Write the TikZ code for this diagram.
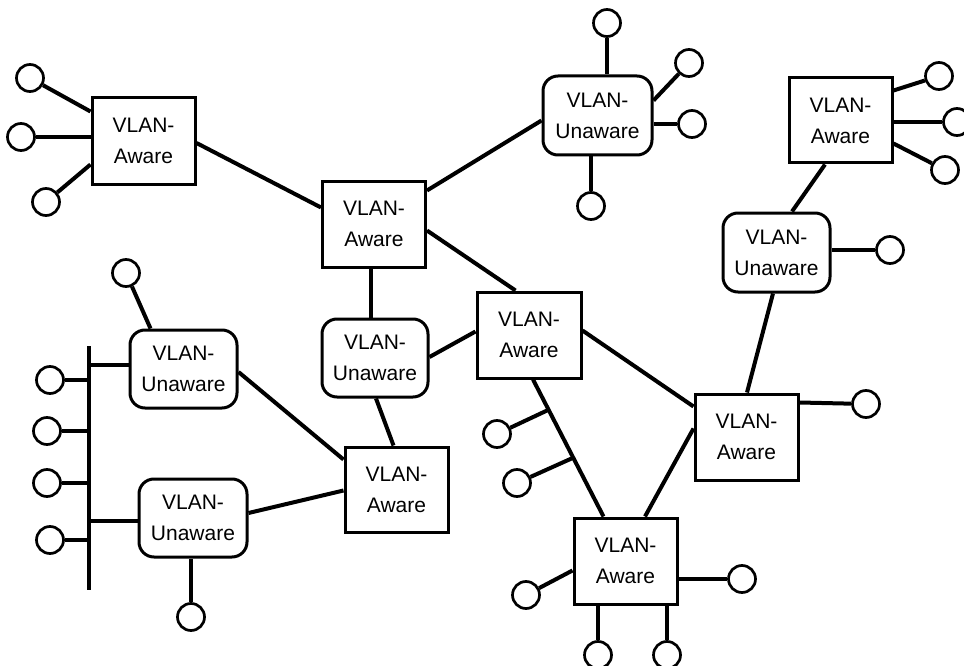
\documentclass[tikz,border=0pt]{standalone}
\usepackage{fontspec}
\setmainfont{Liberation Sans}
\usetikzlibrary{calc}
\begin{document}
\begin{tikzpicture}[x=1pt,y=-1pt,
  aware/.style={draw,line width=3pt,fill=white,rectangle,minimum width=103pt,minimum height=86pt,inner sep=0pt,align=center,font=\fontsize{21}{31}\selectfont},
  unaware/.style={draw,line width=3pt,fill=white,rectangle,rounded corners=15pt,minimum width=107pt,minimum height=79pt,inner sep=0pt,align=center,font=\fontsize{21}{31}\selectfont},
  host/.style={draw,line width=2.7pt,fill=white,circle,minimum size=27pt,inner sep=0pt},
  link/.style={line width=4pt}]
\useasboundingbox (0,0) rectangle (964,666);
% switches
\node[aware] (A) at (143.5,141) {VLAN-\\Aware};
\node[aware] (B) at (374,224) {VLAN-\\Aware};
\node[unaware,minimum width=109pt] (U1) at (597.5,115.5) {VLAN-\\Unaware};
\node[aware,minimum height=85pt] (C) at (840.5,120.5) {VLAN-\\Aware};
\node[unaware] (U2) at (776.5,252.5) {VLAN-\\Unaware};
\node[aware] (D) at (746.5,437) {VLAN-\\Aware};
\node[aware,minimum width=104pt] (E) at (529,335) {VLAN-\\Aware};
\node[aware] (F) at (625.5,561) {VLAN-\\Aware};
\node[aware,minimum height=85pt] (G) at (396.5,489.5) {VLAN-\\Aware};
\node[unaware,minimum width=106pt,minimum height=78pt] (U3) at (375,358) {VLAN-\\Unaware};
\node[unaware,minimum height=78pt] (U4) at (183.5,369) {VLAN-\\Unaware};
\node[unaware,minimum width=108pt,minimum height=78pt] (U5) at (193,518) {VLAN-\\Unaware};
% hosts
\node[host] (cA1) at (30,78) {};
\node[host] (cA2) at (21,137) {};
\node[host] (cA3) at (46,202) {};
\node[host] (cU1a) at (607,23) {};
\node[host] (cU1b) at (689,63) {};
\node[host] (cU1c) at (692,124) {};
\node[host] (cU1d) at (591,206) {};
\node[host] (cC1) at (939,76) {};
\node[host] (cC2) at (957,122) {};
\node[host] (cC3) at (945,170) {};
\node[host] (cU2) at (890,250) {};
\node[host] (cD) at (866,404) {};
\node[host] (cE1) at (497,434) {};
\node[host] (cE2) at (517,483) {};
\node[host] (cF1) at (526,595) {};
\node[host] (cF2) at (742,579) {};
\node[host] (cF3) at (598,655) {};
\node[host] (cF4) at (667,655) {};
\node[host] (cU4) at (126,273) {};
\node[host] (cU5) at (191,617) {};
\node[host] (cB1) at (50,380) {};
\node[host] (cB2) at (47,431) {};
\node[host] (cB3) at (47,483) {};
\node[host] (cB4) at (50,540) {};
% bus
\coordinate (busTop) at (89,346);
\coordinate (busBot) at (89,590);
\draw[link] (busTop) -- (busBot);
\coordinate (u4w) at ($(U4.west)+(0,-4)$);
\coordinate (u5w) at ($(U5.west)+(0,3)$);
\draw[link] (u4w) -- (u4w -| busTop);
\draw[link] (u5w) -- (u5w -| busTop);
\foreach \c in {cB1,cB2,cB3,cB4}{\draw[link] (\c) -- (\c -| busTop);}
% links between switches
\draw[link] ($(A.east)+(0,2)$) -- ($(B.north west)+(0,28)$);
\draw[link] ($(B.north east)+(0,11)$) -- ($(U1.north west)+(0,46)$);
\draw[link] ($(B.north east)+(0,51)$) -- ($(E.north west)+(40,0)$);
\draw[link] ($(B.south)+(-3,0)$) -- ($(U3.north)+(-4,0)$);
\draw[link] ($(C.south)+(-15.5,0)$) -- ($(U2.north)+(15.5,0)$);
\draw[link] ($(U2.south)+(-3.5,0)$) -- ($(D.north)+(0.5,0)$);
\draw[link] ($(E.north east)+(0,40)$) -- ($(D.north west)+(0,14)$);
\draw[link] ($(D.north west)+(0,36)$) -- ($(F.north)+(19.5,0)$);
\coordinate (eTop) at ($(E.south)+(4,0)$);
\coordinate (fTop) at ($(F.north)+(-22,0)$);
\draw[link] (eTop) -- (fTop);
\draw[link] ($(U3.east)+(0,-1)$) -- ($(E.north west)+(0,41)$);
\draw[link] ($(U3.south)+(1,0)$) -- ($(G.north)+(-3,0)$);
\draw[link] ($(U4.east)+(0,3)$) -- ($(G.north west)+(0,14)$);
\draw[link] ($(U5.east)+(0,-5)$) -- ($(G.north west)+(0,45)$);
% host links
\draw[link] (cA1) -- ($(A.north west)+(0,15)$);
\draw[link] (cA2) -- ($(A.west)+(0,-4)$);
\draw[link] (cA3) -- ($(A.north west)+(0,68)$);
\draw[link] (cU1a) -- ($(U1.north)+(9.5,0)$);
\draw[link] (cU1b) -- ($(U1.north east)+(0,26)$);
\draw[link] (cU1c) -- ($(U1.east)+(0,8.5)$);
\draw[link] (cU1d) -- ($(U1.south)+(-6.5,0)$);
\draw[link] (cC1) -- ($(C.north east)+(0,14)$);
\draw[link] (cC2) -- ($(C.east)+(0,1.5)$);
\draw[link] (cC3) -- ($(C.north east)+(0,67)$);
\draw[link] (cU2) -- ($(U2.east)+(0,-2.5)$);
\draw[link] (cD) -- ($(D.north east)+(0,10)$);
\draw[link] (cE1) -- ($(eTop)!0.221!(fTop)$);
\draw[link] (cE2) -- ($(eTop)!0.571!(fTop)$);
\draw[link] (cF1) -- ($(F.north west)+(0,54)$);
\draw[link] (cF2) -- ($(F.east)+(0,18)$);
\draw[link] (cF3) -- ($(F.south)+(-27.5,0)$);
\draw[link] (cF4) -- ($(F.south)+(41.5,0)$);
\draw[link] (cU4) -- ($(U4.north west)+(22,0)$);
\draw[link] (cU5) -- ($(U5.south)+(-2,0)$);
\end{tikzpicture}
\end{document}
